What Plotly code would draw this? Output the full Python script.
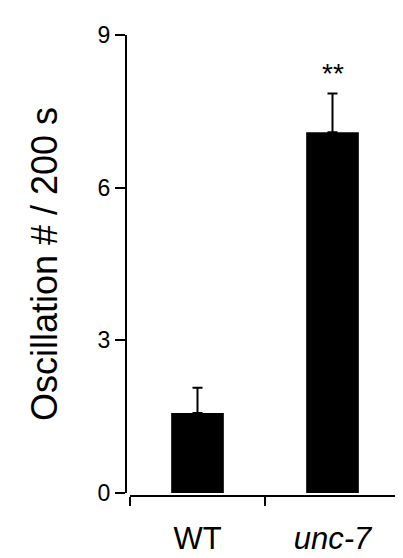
import plotly.graph_objects as go

# values
groups = ["WT", "unc-7"]
group_labels = ["WT", "<i>unc-7</i>"]
means = [1.57, 7.09]
sem = [0.50, 0.76]
sig_marks = ["", "**"]

# page body adds an 8px margin, so draw the figure 8px smaller and shift
OFF = 8
W, H = 403 - OFF, 558 - OFF


def px_x(x):
    return (x - OFF) / W


def px_y(y):
    return 1 - (y - OFF) / H


fig = go.Figure()
fig.add_trace(go.Bar(
    x=[0, 1],
    y=means,
    width=0.39,
    marker=dict(color="black", line=dict(width=0)),
    error_y=dict(type="data", array=sem, arrayminus=[0, 0], symmetric=False,
                 color="black", thickness=2, width=5),
    showlegend=False,
))

# significance stars above bars
for i, mark in enumerate(sig_marks):
    if mark:
        fig.add_annotation(x=i, y=8.25, text=mark, showarrow=False,
                           font=dict(size=28, color="black"))

fig.update_layout(
    width=W, height=H,
    margin=dict(l=0, r=0, t=0, b=0),
    plot_bgcolor="white", paper_bgcolor="white",
    font=dict(family="Liberation Sans, Arial, sans-serif", color="black"),
    xaxis=dict(
        domain=[px_x(130), px_x(400)],
        range=[-0.5, 1.5],
        anchor="free", position=px_y(496),
        tickvals=[0, 1], ticktext=group_labels,
        ticks="outside", ticklen=0,
        minor=dict(tickvals=[-0.5, 0.5, 1.5], ticks="outside", ticklen=9,
                   tickwidth=2, tickcolor="black", showgrid=False),
        showline=True, linecolor="black", linewidth=2,
        tickfont=dict(size=31),
        ticklabelstandoff=15,
        showgrid=False, zeroline=False, automargin=False,
    ),
    yaxis=dict(
        domain=[px_y(493), px_y(35)],
        range=[0, 9],
        anchor="free", position=px_x(126),
        tickvals=[0, 3, 6, 9],
        ticks="outside", ticklen=10, tickwidth=2, tickcolor="black",
        showline=True, linecolor="black", linewidth=2,
        tickfont=dict(size=23),
        title=dict(text="Oscillation # / 200 s", font=dict(size=36), standoff=28),
        showgrid=False, zeroline=False, automargin=False,
    ),
)

fig.write_html("out.html")
